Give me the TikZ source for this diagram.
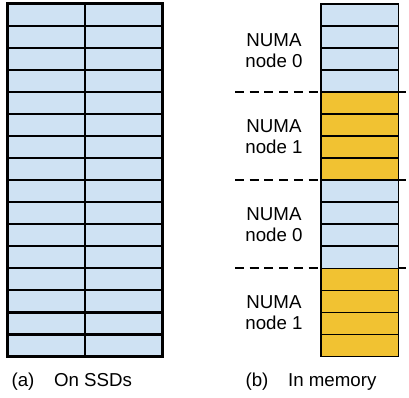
\documentclass[tikz,border=0pt]{standalone}
\usepackage{fontspec}
\setmainfont{Liberation Sans}
\definecolor{cellblue}{HTML}{CFE2F3}
\definecolor{cellyellow}{HTML}{F1C232}
\usetikzlibrary{positioning}

\begin{document}
\begin{tikzpicture}[
  x=1pt,y=-1pt,
  every node/.style={font=\fontsize{18.7}{21}\selectfont},
  ssdcell/.style={draw,fill=cellblue,line width=2.3pt,minimum width=77.5pt,minimum height=22.04pt,inner sep=0pt,outer sep=0pt},
  memcell/.style={draw,line width=1.5pt,minimum width=77.7pt,minimum height=22.04pt,inner sep=0pt,outer sep=0pt},
  numalabel/.style={align=center,inner sep=0pt},
  numasplit/.style={dashed,line width=2pt,dash pattern=on 9pt off 5.7pt},
  caption/.style={anchor=base west,inner sep=0pt},
]
  \useasboundingbox (0,0) rectangle (409,398);

  % (a) SSD layout
  \foreach \r in {0,...,15}{
    \node[ssdcell] (ssd-a-\r) at (46.3,{3.8+22.04*(\r+0.5)}) {};
    \node[ssdcell] (ssd-b-\r) at (123.75,{3.8+22.04*(\r+0.5)}) {};
  }
  \draw[line width=3pt] (ssd-a-0.north west) rectangle (ssd-b-15.south east);

  % NUMA boundaries
  \foreach \k in {1,2,3}
    \draw[numasplit] (235,{3.8+88.16*\k}) -- (409,{3.8+88.16*\k});

  % (b) memory layout
  \foreach \g/\col in {0/cellblue,1/cellyellow,2/cellblue,3/cellyellow}{
    \foreach \i in {0,...,3}{
      \pgfmathtruncatemacro{\r}{4*\g+\i}
      \node[memcell,fill=\col] (mem-\r) at (359.65,{3.8+22.04*(\r+0.5)}) {};
    }
  }

  % NUMA labels
  \node[numalabel] (numa-a) at (274,51) {NUMA\\node 0};
  \node[numalabel] (numa-b) at (274,137) {NUMA\\node 1};
  \node[numalabel] (numa-c) at (274,225) {NUMA\\node 0};
  \node[numalabel] (numa-d) at (274,313) {NUMA\\node 1};

  % Captions
  \node[caption] (cap-a) at (11.4,386) {\makebox[42.5pt][l]{(a)}On SSDs};
  \node[caption] (cap-b) at (245.4,386) {\makebox[42.5pt][l]{(b)}In memory};
\end{tikzpicture}
\end{document}
